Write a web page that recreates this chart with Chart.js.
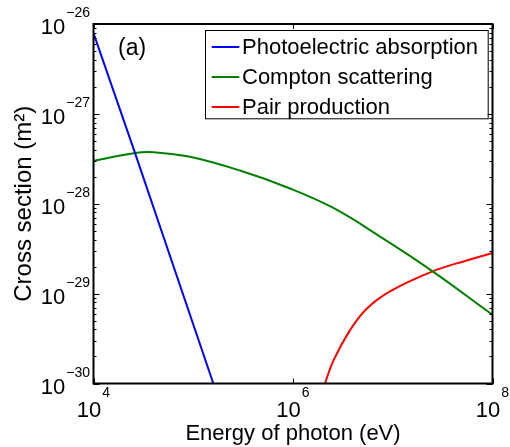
<!DOCTYPE html>
<html>
<head>
<meta charset="utf-8">
<script src="https://cdn.jsdelivr.net/npm/chart.js@4"></script>
<style>
html,body{margin:0;padding:0;background:#fff;}
canvas{display:block;}
</style>
</head>
<body>
<canvas id="c" width="510" height="447"></canvas>
<script>
// ---- data ----
const seriesNames = ['Photoelectric absorption', 'Compton scattering', 'Pair production'];

const photoEnergy = [1e4, 2.6e4, 1.59e5];
const photoCross  = [7.9e-27, 3.7e-28, 1e-30];

const comptonEnergy = [1e4, 2.61e4, 3.98e4, 9.27e4, 2.94e5, 9.33e5, 2.54e6, 8.04e6, 2.51e7, 1e8];
const comptonCross  = [3.0e-28, 3.68e-28, 3.75e-28, 3.33e-28, 2.34e-28, 1.48e-28, 8.97e-29, 4.09e-29, 1.77e-29, 5.82e-30];

const pairEnergy = [2.09e6, 2.54e6, 3.72e6, 5.48e6, 9.38e6, 2.51e7, 5.51e7, 1e8];
const pairCross  = [1e-30, 1.80e-30, 3.90e-30, 6.79e-30, 1.06e-29, 1.77e-29, 2.34e-29, 2.83e-29];

const xTickExponents = [4, 6, 8];
const yTickExponents = [-30, -29, -28, -27, -26];

const xTitle = 'Energy of photon (eV)';
const yTitle = 'Cross section (m\u00B2)';
const panelLabel = '(a)';

// ---- build chart ----
const FONT = '"Liberation Sans", Arial, Helvetica, sans-serif';
function pts(xs, ys){ return xs.map((x,i)=>({x:x, y:ys[i]})); }

const overlay = {
  id: 'overlay',
  afterDraw(chart){
    const ctx = chart.ctx;
    const a = chart.chartArea;
    const xs = chart.scales.x, ys = chart.scales.y;
    ctx.save();
    ctx.strokeStyle = '#000';
    ctx.fillStyle = '#000';
    // ticks (inside)
    ctx.lineWidth = 1;
    ctx.beginPath();
    xTickExponents.forEach(e=>{
      const px = Math.round(xs.getPixelForValue(Math.pow(10,e))) + 0.5;
      ctx.moveTo(px, a.bottom); ctx.lineTo(px, a.bottom-5);
      ctx.moveTo(px, a.top); ctx.lineTo(px, a.top+5);
    });
    for (let e = yTickExponents[0]; e <= yTickExponents[yTickExponents.length-1]; e++){
      for (let m = 1; m <= 9; m++){
        const v = m*Math.pow(10,e);
        if (v > ys.max*1.0001) break;
        const py = Math.round(ys.getPixelForValue(v)) + 0.5;
        const len = m===1 ? 6 : 3;
        ctx.moveTo(a.left, py); ctx.lineTo(a.left+len, py);
        ctx.moveTo(a.right, py); ctx.lineTo(a.right-len, py);
      }
    }
    ctx.stroke();
    // frame
    ctx.lineWidth = 2;
    ctx.strokeRect(a.left, a.top, a.right-a.left, a.bottom-a.top);

    // y tick labels
    yTickExponents.forEach(e=>{
      const py = ys.getPixelForValue(Math.pow(10,e));
      const exp = '\u2212' + Math.abs(e);
      ctx.font = '14px ' + FONT;
      const ew = ctx.measureText(exp).width;
      ctx.textAlign = 'left';
      ctx.textBaseline = 'alphabetic';
      const expX = a.left - 3.5 - ew;
      ctx.fillText(exp, expX, py - 7);
      ctx.font = '22px ' + FONT;
      ctx.textAlign = 'right';
      ctx.fillText('10', expX - 1, py + 10);
    });
    // x tick labels
    xTickExponents.forEach(e=>{
      const px = xs.getPixelForValue(Math.pow(10,e));
      const exp = String(e);
      ctx.font = '22px ' + FONT;
      const bw = ctx.measureText('10').width;
      ctx.font = '14px ' + FONT;
      const ew = ctx.measureText(exp).width;
      const total = bw + 1 + ew;
      const x0 = px - total/2;
      ctx.textAlign = 'left';
      ctx.textBaseline = 'alphabetic';
      ctx.font = '22px ' + FONT;
      ctx.fillText('10', x0, 416.7);
      ctx.font = '14px ' + FONT;
      ctx.fillText(exp, x0 + bw + 1, 397);
    });

    // panel label
    ctx.font = '23px ' + FONT;
    ctx.textAlign = 'left';
    ctx.fillText(panelLabel, 118, 55);

    // legend box
    const bx = 205, by = 30, bw2 = 282.7, bh = 88.3;
    ctx.fillStyle = '#fff';
    ctx.fillRect(bx, by, bw2, bh);
    ctx.lineWidth = 1;
    ctx.strokeStyle = '#000';
    ctx.strokeRect(bx+0.5, by+0.5, bw2, bh);
    const rows = [47, 77, 107];
    chart.data.datasets.forEach((ds,i)=>{
      const y = rows[i];
      ctx.strokeStyle = ds.borderColor;
      ctx.lineWidth = 2;
      ctx.beginPath();
      ctx.moveTo(211.7, y); ctx.lineTo(239.3, y);
      ctx.stroke();
      ctx.fillStyle = '#000';
      ctx.font = '22px ' + FONT;
      ctx.textAlign = 'left';
      ctx.textBaseline = 'alphabetic';
      ctx.fillText(ds.label, 242, y + 6.5);
    });
    ctx.restore();
  }
};

new Chart(document.getElementById('c'), {
  type: 'line',
  data: {
    datasets: [
      { label: seriesNames[0], data: pts(photoEnergy, photoCross), borderColor: '#0000ff', tension: 0 },
      { label: seriesNames[1], data: pts(comptonEnergy, comptonCross), borderColor: '#008000', tension: 0.4 },
      { label: seriesNames[2], data: pts(pairEnergy, pairCross), borderColor: '#ff0000', tension: 0.4 }
    ]
  },
  options: {
    responsive: false,
    devicePixelRatio: 1,
    animation: false,
    layout: { padding: { left: 0, top: 24, right: 17.5, bottom: 0 } },
    elements: {
      point: { radius: 0 },
      line: { borderWidth: 2, fill: false, capBezierPoints: true }
    },
    plugins: { legend: { display: false }, tooltip: { enabled: false } },
    scales: {
      x: {
        type: 'logarithmic', min: 1e4, max: 1e8, position: 'bottom',
        grid: { display: false }, border: { display: false },
        ticks: { display: false },
        title: { display: true, text: xTitle, color: '#000',
                 font: { family: FONT, size: 22 }, padding: { top: 0, bottom: 0 } },
        afterFit(s){ s.height = 447 - 383.5; }
      },
      y: {
        type: 'logarithmic', min: 1e-30, max: 1e-26, position: 'left',
        grid: { display: false }, border: { display: false },
        ticks: { display: false },
        title: { display: true, text: yTitle, color: '#000',
                 font: { family: FONT, size: 24 }, padding: { top: 9.5, bottom: 0 } },
        afterFit(s){ s.width = 93.5; }
      }
    }
  },
  plugins: [overlay]
});
</script>
</body>
</html>
